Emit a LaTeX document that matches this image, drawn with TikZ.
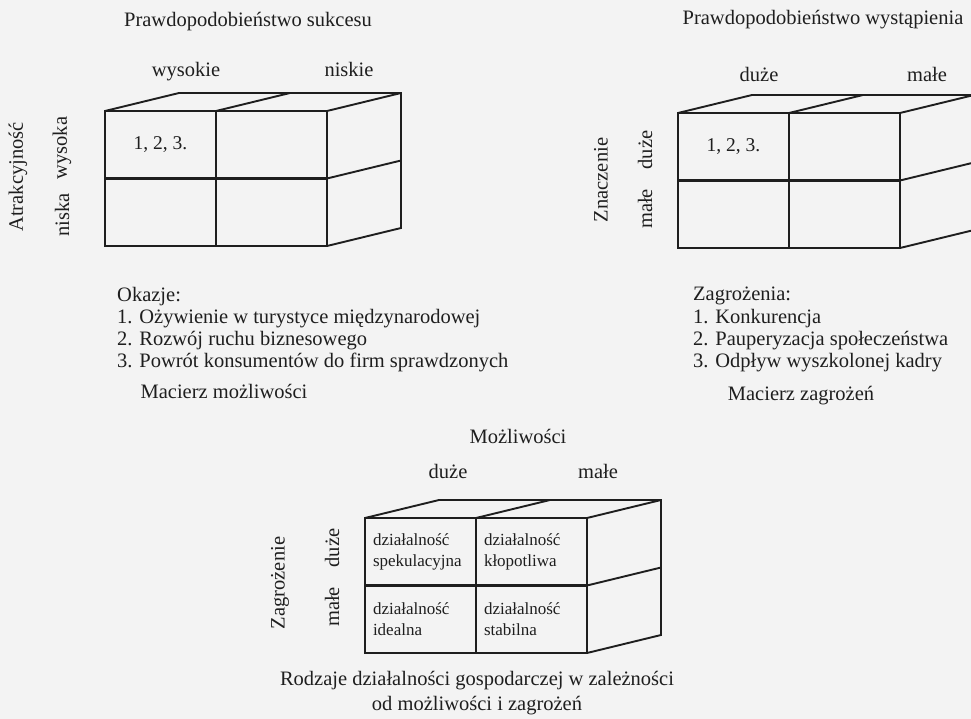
\documentclass[tikz,border=0pt]{standalone}
\usepackage{fontspec}
\setmainfont{Liberation Serif}
\usetikzlibrary{calc}
\definecolor{ink}{HTML}{1E1E1E}
\definecolor{paper}{HTML}{F3F3F3}
\newcommand{\mback}[1]{%
  \draw[back] (#1a.north west) -- ($(#1a.north west)+(74,-18)$) -- ($(#1b.north east)+(74,-18)$) -- ($(#1d.south east)+(74,-18)$) -- (#1d.south east);
  \draw[back] (#1a.north east) -- ++(74,-18);
  \draw[back] (#1b.north east) -- ++(74,-18);
  \draw[back] (#1b.south east) -- ++(74,-18);
}
\begin{document}
\begin{tikzpicture}[x=1pt,y=-1pt,
  lbl/.style={font=\fontsize{20.5}{24}\selectfont, text=ink, inner sep=0pt},
  cell/.style={draw=ink, line width=2.6pt, outer sep=0pt, minimum width=111pt, minimum height=67.5pt, inner sep=0pt, anchor=north west, font=\fontsize{19.5}{22}\selectfont, text=ink},
  cellt/.style={cell, text width=95pt, inner xsep=8pt, align=left, font=\fontsize{17}{21}\selectfont},
  back/.style={draw=ink, line width=1.9pt, line join=miter}]
\useasboundingbox[fill=paper] (0,0) rectangle (971,719);
\clip (0,0) rectangle (971,719);

% ---------- Matrix 1 ----------
\node[lbl, anchor=base] (t1) at (248,27) {Prawdopodobieństwo sukcesu};
\node[lbl, anchor=base] (h1a) at (186,77) {wysokie};
\node[lbl, anchor=base] (h1b) at (349,77) {niskie};
\node[lbl, rotate=90] (v1) at (18,177) {Atrakcyjność};
\node[lbl, rotate=90] (v1a) at (62,148) {wysoka};
\node[lbl, rotate=90] (v1b) at (62,215) {niska};
\node[cell] (Aa) at (105,111) {1, 2, 3.};
\node[cell] (Ab) at (Aa.north east) {};
\node[cell] (Ac) at (Aa.south west) {};
\node[cell] (Ad) at (Ac.north east) {};
\mback{A}
\node[lbl, anchor=base west] (o0) at (117,301) {Okazje:};
\node[lbl, anchor=base west] (o1) at (117,323) {1. Ożywienie w turystyce międzynarodowej};
\node[lbl, anchor=base west] (o2) at (117,345) {2. Rozwój ruchu biznesowego};
\node[lbl, anchor=base west] (o3) at (117,367) {3. Powrót konsumentów do firm sprawdzonych};
\node[lbl, anchor=base] (m1) at (224,398) {Macierz możliwości};

% ---------- Matrix 2 ----------
\node[lbl, anchor=base] (t2) at (823,25) {Prawdopodobieństwo wystąpienia};
\node[lbl, anchor=base] (h2a) at (759,82) {duże};
\node[lbl, anchor=base] (h2b) at (927,82) {małe};
\node[lbl, rotate=90] (v2) at (601,180) {Znaczenie};
\node[lbl, rotate=90] (v2a) at (645,150) {duże};
\node[lbl, rotate=90] (v2b) at (645,209) {małe};
\node[cell] (Ba) at (678,113) {1, 2, 3.};
\node[cell] (Bb) at (Ba.north east) {};
\node[cell] (Bc) at (Ba.south west) {};
\node[cell] (Bd) at (Bc.north east) {};
\mback{B}
\node[lbl, anchor=base west] (z0) at (693,300) {Zagrożenia:};
\node[lbl, anchor=base west] (z1) at (693,323) {1. Konkurencja};
\node[lbl, anchor=base west] (z2) at (693,345) {2. Pauperyzacja społeczeństwa};
\node[lbl, anchor=base west] (z3) at (693,367) {3. Odpływ wyszkolonej kadry};
\node[lbl, anchor=base] (m2) at (801,400) {Macierz zagrożeń};

% ---------- Matrix 3 ----------
\node[lbl, anchor=base] (t3) at (518,443) {Możliwości};
\node[lbl, anchor=base] (h3a) at (448,478) {duże};
\node[lbl, anchor=base] (h3b) at (598,478) {małe};
\node[lbl, rotate=90] (v3) at (280,583) {Zagrożenie};
\node[lbl, rotate=90] (v3a) at (332,548) {duże};
\node[lbl, rotate=90] (v3b) at (332,607) {małe};
\node[cellt] (Ca) at (365,518) {działalność\\spekulacyjna};
\node[cellt] (Cb) at (Ca.north east) {działalność\\kłopotliwa};
\node[cellt] (Cc) at (Ca.south west) {działalność\\idealna};
\node[cellt] (Cd) at (Cc.north east) {działalność\\stabilna};
\mback{C}
\node[lbl, anchor=base] (r1) at (477,685) {Rodzaje działalności gospodarczej w zależności};
\node[lbl, anchor=base] (r2) at (477,710) {od możliwości i zagrożeń};
\end{tikzpicture}
\end{document}
